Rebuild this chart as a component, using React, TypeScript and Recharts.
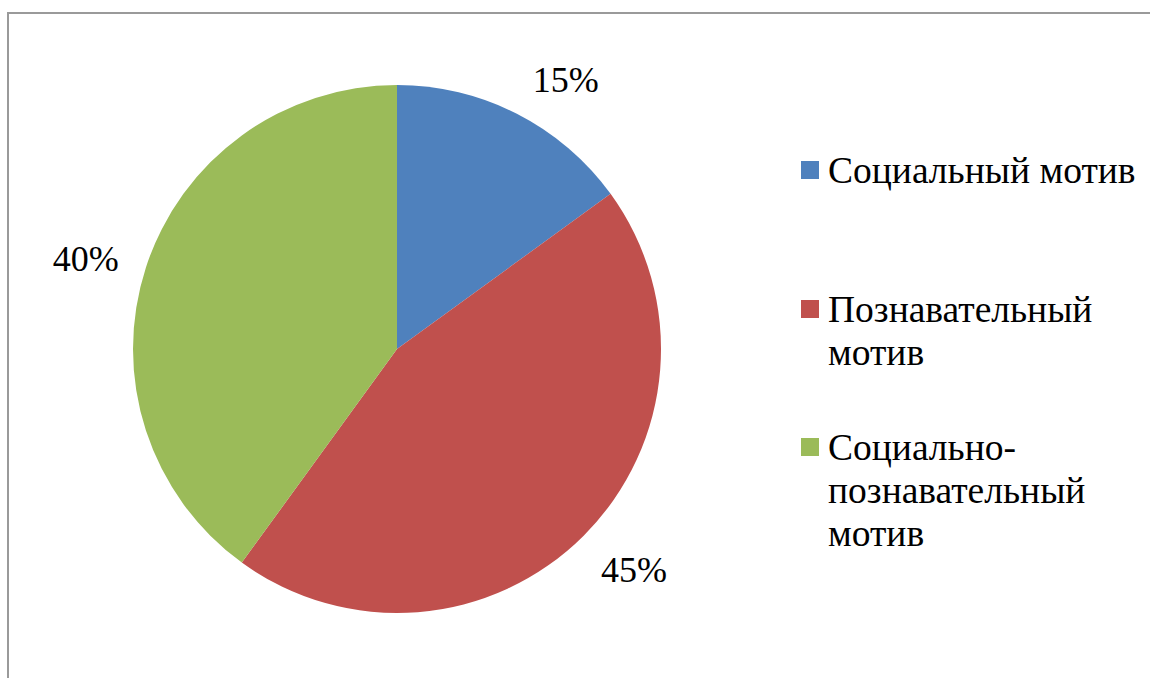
import React from "react";
import { PieChart, Pie, Cell, Legend } from "recharts";

const categories = ["Социальный мотив", "Познавательный мотив", "Социально-познавательный мотив"];
const shares = [15, 45, 40];
const colors = ["#4F81BD", "#C0504D", "#9BBB59"];

const data = categories.map((name, i) => ({ name, value: shares[i] }));

const FONT = "Times New Roman, Liberation Serif, DejaVu Serif, serif";
const RADIAN = Math.PI / 180;

// small per-label nudges so the labels sit where the original's "best fit" put them
const labelNudge = [
  [23, 17],
  [10, -6],
  [-6, 9],
];

const renderLabel = (props: any) => {
  const { cx, cy, midAngle, outerRadius, percent, index } = props;
  const r = outerRadius + 57;
  const [nx, ny] = labelNudge[index] || [0, 0];
  const x = cx + r * Math.cos(-midAngle * RADIAN) + nx;
  const y = cy + r * Math.sin(-midAngle * RADIAN) + ny;
  return (
    <text
      x={x}
      y={y}
      textAnchor="middle"
      dominantBaseline="central"
      style={{ fontFamily: FONT, fontSize: 36 }}
      fill="#000"
    >
      {`${Math.round(percent * 100)}%`}
    </text>
  );
};

// gaps between legend entries, as in the original layout
const entryGaps = [0, 96, 52];

// legend keeps the data order (recharts would sort it by name otherwise)
const LegendContent = () => (
  <div style={{ fontFamily: FONT, fontSize: 37.5, lineHeight: "43px", color: "#000" }}>
    {data.map((d, i) => (
      <div key={d.name} style={{ display: "flex", marginTop: entryGaps[i] }}>
        <div
          style={{
            width: 18,
            height: 18,
            marginTop: 12,
            background: colors[i],
            flex: "none",
          }}
        />
        <div style={{ marginLeft: 9, width: 325 }}>{d.name}</div>
      </div>
    ))}
  </div>
);

export default function App() {
  return (
    <div
      style={{
        position: "fixed",
        left: 0,
        top: 0,
        width: 1150,
        height: 678,
        background: "#fff",
        overflow: "hidden",
        fontFamily: FONT,
      }}
    >
      <div
        style={{
          position: "absolute",
          left: 7,
          top: 12,
          right: 0,
          bottom: 0,
          borderTop: "2px solid #9a9a9a",
          borderLeft: "2px solid #9a9a9a",
        }}
      />
      <PieChart
        width={1150}
        height={678}
        margin={{ top: 0, right: 0, bottom: 0, left: 0 }}
        style={{ position: "absolute", left: 0, top: 0 }}
      >
        <Pie
          data={data}
          dataKey="value"
          nameKey="name"
          cx={397}
          cy={349}
          outerRadius={264}
          startAngle={90}
          endAngle={-270}
          stroke="none"
          label={renderLabel}
          labelLine={false}
          isAnimationActive={false}
        >
          {data.map((d, i) => (
            <Cell key={d.name} fill={colors[i]} />
          ))}
        </Pie>
        <Legend
          layout="vertical"
          align="right"
          verticalAlign="top"
          content={<LegendContent />}
          wrapperStyle={{ left: 801, top: 149, width: 350 }}
        />
      </PieChart>
    </div>
  );
}
